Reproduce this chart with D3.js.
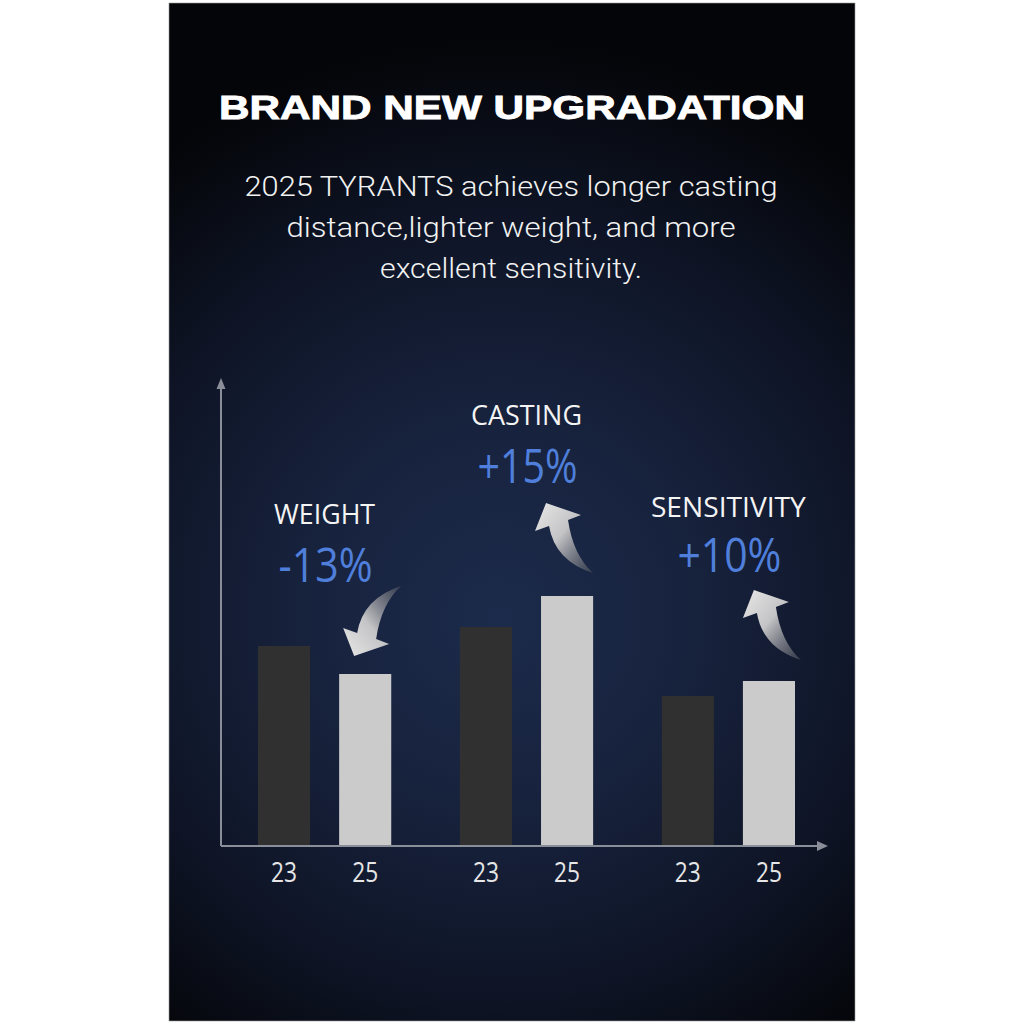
<!DOCTYPE html>
<html><head><meta charset="utf-8">
<script src="https://cdn.jsdelivr.net/npm/d3@7"></script>
<style>html,body{margin:0;padding:0;background:#fff;}svg{display:block;}</style>
</head><body>
<svg id="c" width="1024" height="1024"></svg>
<script>
// ---- data ----
const categories = ["WEIGHT", "CASTING", "SENSITIVITY"];
const years = ["23", "25"];
const values23 = [200, 219, 150];
const values25 = [172, 250, 165];
const changes = ["-13%", "+15%", "+10%"];
const title = "BRAND NEW UPGRADATION";
const subtitleLines = ["2025 TYRANTS achieves longer casting", "distance,lighter weight, and more", "excellent sensitivity."];

// ---- layout ----
const svg = d3.select("#c");
const panel = {x: 169, y: 3, w: 686, h: 1018};
const axisX = 221, axisBottom = 846, axisTop = 378, axisRight = 828;

const defs = svg.append("defs");
const bg = defs.append("radialGradient").attr("id", "bg")
  .attr("gradientUnits", "userSpaceOnUse").attr("cx", 500).attr("cy", 600).attr("r", 560)
  .attr("fx", 500).attr("fy", 620);
[[0, "#1c2b4b"], [0.35, "#17223d"], [0.7, "#0e1425"], [1, "#040508"]].forEach(s =>
  bg.append("stop").attr("offset", s[0]).attr("stop-color", s[1]));

const ag = defs.append("linearGradient").attr("id", "arrowGrad")
  .attr("x1", 0).attr("y1", 0).attr("x2", 1).attr("y2", 1);
[[0, "#e8e8e8", 1], [0.45, "#c4c4c6", 1], [1, "#4a4f5a", 0.6]].forEach(s =>
  ag.append("stop").attr("offset", s[0]).attr("stop-color", s[1]).attr("stop-opacity", s[2]));

svg.append("rect").attr("x", panel.x).attr("y", panel.y).attr("width", panel.w).attr("height", panel.h)
  .attr("fill", "url(#bg)").attr("stroke", "#9a9a9a").attr("stroke-width", 0.6);

// title
svg.append("text").text(title)
  .attr("x", 512).attr("y", 119).attr("text-anchor", "middle")
  .attr("font-family", "Liberation Sans, Arial, sans-serif").attr("font-weight", "bold")
  .attr("font-size", 34).attr("fill", "#ffffff").attr("stroke", "#ffffff").attr("stroke-width", 0.9)
  .attr("textLength", 586).attr("lengthAdjust", "spacingAndGlyphs");

// subtitle
const subW = [533, 449, 262];
subtitleLines.forEach((l, i) => {
  svg.append("text").text(l)
    .attr("x", 511).attr("y", 196 + i * 41).attr("text-anchor", "middle")
    .attr("font-family", "Roboto, sans-serif").attr("font-weight", 300)
    .attr("font-size", 28).attr("fill", "#f2f2f2")
    .attr("textLength", subW[i]).attr("lengthAdjust", "spacingAndGlyphs");
});

// scales
const x0 = d3.scaleBand().domain(categories).range([258, 795]).paddingInner(0.34).paddingOuter(0);
const x1 = d3.scaleBand().domain(years).range([0, x0.bandwidth()]).paddingInner(0.358).paddingOuter(0);
const y = d3.scaleLinear().domain([0, 468]).range([axisBottom, axisTop]);

const rows = categories.map((c, i) => ({cat: c, vals: [values23[i], values25[i]], change: changes[i]}));

// bars
const g = svg.append("g");
rows.forEach(r => {
  years.forEach((yr, j) => {
    g.append("rect")
      .attr("x", x0(r.cat) + x1(yr)).attr("y", y(r.vals[j]))
      .attr("width", x1.bandwidth()).attr("height", y(0) - y(r.vals[j]))
      .attr("fill", j === 0 ? "#303030" : "#cbcbcb");
  });
});

// axes
const axisCol = "#8a8e98";
svg.append("line").attr("x1", axisX).attr("y1", axisBottom).attr("x2", axisX).attr("y2", axisTop + 8)
  .attr("stroke", axisCol).attr("stroke-width", 2);
svg.append("path").attr("d", `M${axisX},${axisTop} L${axisX + 4.5},${axisTop + 11} L${axisX - 4.5},${axisTop + 11} Z`).attr("fill", axisCol);
svg.append("line").attr("x1", axisX).attr("y1", axisBottom).attr("x2", axisRight - 10).attr("y2", axisBottom)
  .attr("stroke", axisCol).attr("stroke-width", 2);
svg.append("path").attr("d", `M${axisRight},${axisBottom} L${axisRight - 11},${axisBottom - 5} L${axisRight - 11},${axisBottom + 5} Z`).attr("fill", axisCol);

// tick labels
rows.forEach(r => {
  years.forEach(yr => {
    svg.append("text").text(yr)
      .attr("x", x0(r.cat) + x1(yr) + x1.bandwidth() / 2).attr("y", 882)
      .attr("text-anchor", "middle").attr("font-family", "Open Sans, sans-serif").attr("font-weight", 400)
      .attr("font-size", 28).attr("fill", "#e6e6e6")
      .attr("textLength", 26).attr("lengthAdjust", "spacingAndGlyphs");
  });
});

// category labels & changes (placement per group)
const labelBase = [524, 425, 517];
const labelW = [101, 111, 155];
const pctBase = [582, 483, 572];
const pctW = [94, 100, 104];
rows.forEach((r, i) => {
  const cx = x0(r.cat) + x0.bandwidth() / 2;
  svg.append("text").text(r.cat)
    .attr("x", cx).attr("y", labelBase[i]).attr("text-anchor", "middle")
    .attr("font-family", "Open Sans, sans-serif").attr("font-size", 28).attr("fill", "#f4f4f4")
    .attr("textLength", labelW[i]).attr("lengthAdjust", "spacingAndGlyphs");
  svg.append("text").text(r.change)
    .attr("x", cx + 1).attr("y", pctBase[i]).attr("text-anchor", "middle")
    .attr("font-family", "Open Sans, sans-serif").attr("font-size", 47).attr("fill", "#4f7fda")
    .attr("textLength", pctW[i]).attr("lengthAdjust", "spacingAndGlyphs");
});

// arrows (tip at local 0,0, pointing up-left; flipped for decrease)
const arrowPath = "M0,0 L-11,28 L3,23 Q9,58 47,70 Q27,52 22,17 L35,12 Z";
const arrowOff = [[15, -18, -1], [5, -93, 1], [11, -91, 1]];
rows.forEach((r, i) => {
  const bx = x0(r.cat) + x1("25");
  const by = y(r.vals[1]);
  const o = arrowOff[i];
  svg.append("path").attr("d", arrowPath)
    .attr("transform", `translate(${bx + o[0]},${by + o[1]}) scale(1,${o[2]})`)
    .attr("fill", "url(#arrowGrad)");
});
</script>
</body></html>
